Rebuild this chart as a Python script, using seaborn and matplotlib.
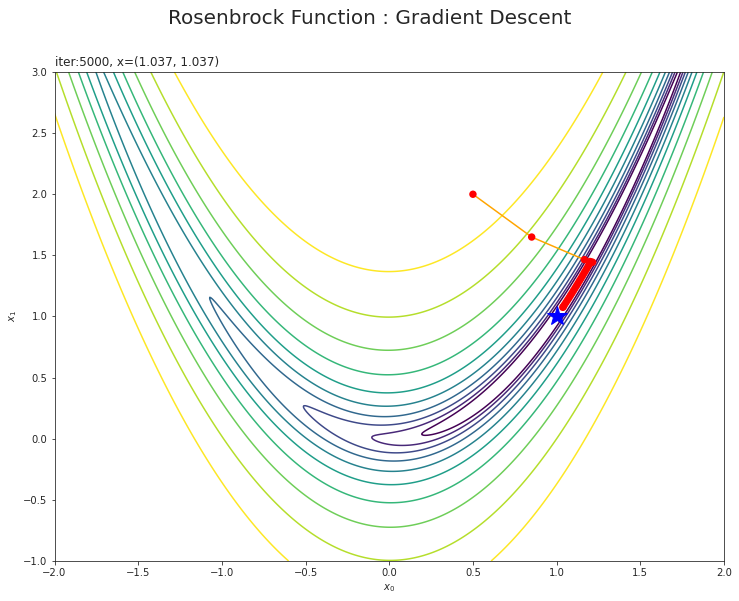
import numpy as np
import pandas as pd
import matplotlib
matplotlib.use("Agg")
import matplotlib.pyplot as plt
from matplotlib.colors import LogNorm
import seaborn as sns

# contour levels of the Rosenbrock function
levels = [0.65, 1.22, 2.29, 4.3, 8.1, 15.1, 28.4, 53.4, 100.0, 188.0]

# gradient descent path
path_x = [0.500, 0.851, 1.166, 1.215, 1.199, 1.205, 1.200, 1.195, 1.188, 1.180,
          1.172, 1.164, 1.155, 1.146, 1.137, 1.128, 1.119, 1.110, 1.101, 1.092,
          1.083, 1.074, 1.065, 1.056, 1.047, 1.040, 1.037]
path_y = [2.000, 1.650, 1.465, 1.444, 1.450, 1.446, 1.441, 1.428, 1.411, 1.392,
          1.373, 1.355, 1.334, 1.313, 1.293, 1.272, 1.252, 1.232, 1.212, 1.192,
          1.173, 1.153, 1.134, 1.115, 1.096, 1.081, 1.075]

minimum = (1.0, 1.0)
n_iter = 5000


def rosenbrock(x0, x1):
    return (1 - x0) ** 2 + 100 * (x1 - x0 ** 2) ** 2


sns.set_style("ticks")

fig = plt.figure(figsize=(739 / 72, 601 / 72), dpi=72)
ax = fig.add_axes([54.5 / 739, 1 - 561 / 601, (724 - 54.5) / 739, (561 - 72) / 601])

xs = np.linspace(-2, 2, 600)
ys = np.linspace(-1, 3, 600)
X, Y = np.meshgrid(xs, ys)
Z = rosenbrock(X, Y)
ax.contour(X, Y, Z, levels=levels, cmap="viridis",
           norm=LogNorm(vmin=levels[0], vmax=levels[-1]), linewidths=1.5)

df = pd.DataFrame({"x0": path_x, "x1": path_y})
sns.lineplot(data=df, x="x0", y="x1", sort=False, color="orange", lw=1.5, ax=ax, zorder=3)
sns.scatterplot(data=df, x="x0", y="x1", color="red", s=55, edgecolor="none",
                linewidth=0, ax=ax, zorder=4)
ax.plot([minimum[0]], [minimum[1]], marker="*", color="blue", markersize=20,
        linestyle="none", zorder=5)

ax.set_xlim(-2, 2)
ax.set_ylim(-1, 3)
ax.set_xlabel("$x_0$", fontsize=10)
ax.set_ylabel("$x_1$", fontsize=10)
ax.tick_params(labelsize=10)
ax.set_title(f"iter:{n_iter}, x=({path_x[-1]:.3f}, {path_x[-1]:.3f})", loc="left", fontsize=12)
fig.suptitle("Rosenbrock Function : Gradient Descent", fontsize=20, y=0.985)

fig.savefig("out.png", dpi=72)
